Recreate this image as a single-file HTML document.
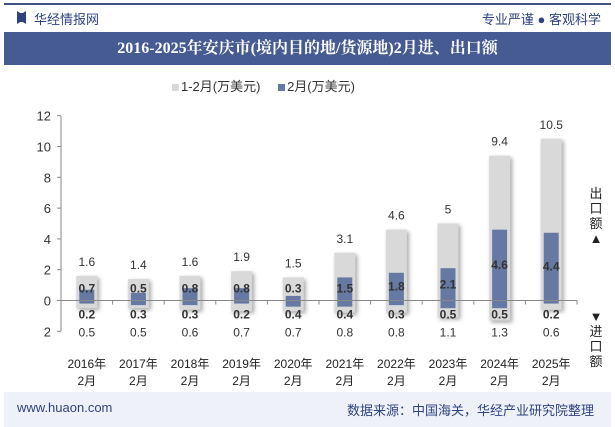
<!DOCTYPE html>
<html><head><meta charset="utf-8"><style>
body{margin:0;width:615px;height:427px;overflow:hidden;background:#fff;font-family:"Liberation Sans","Noto Sans CJK SC",sans-serif;position:relative}
.abs{position:absolute}
</style></head><body>
<div class="abs" style="left:4px;top:3px;width:607px;height:2px;background:#3e5189"></div>
<div class="abs" style="left:17px;top:11px;width:9px;height:13px;background:#2e4381;clip-path:polygon(0 0,35% 15%,65% 15%,100% 0,100% 100%,65% 85%,35% 85%,0 100%)"></div>
<div class="abs" style="left:34px;top:9px;font-size:13px;color:#2e4381">华经情报网</div>
<div class="abs" style="right:14px;top:9px;font-size:13px;color:#2e4381">专业严谨 ● 客观科学</div>
<div class="abs" style="left:4px;top:32px;width:607px;height:33px;background:#475b93;color:#fff;font-family:'Liberation Serif','Noto Serif CJK SC',serif;font-weight:bold;font-size:16px;line-height:33px;text-align:center">2016-2025年安庆市(境内目的地/货源地)2月进、出口额</div>
<div class="abs" style="left:172px;top:76px;font-size:13px;color:#333;white-space:nowrap">
<span><span style="display:inline-block;width:7px;height:7px;background:#d9d9d9;margin-right:2px"></span>1-2月(万美元)</span>
<span style="margin-left:14px"><span style="display:inline-block;width:7px;height:7px;background:#6679a3;margin-right:2px"></span>2月(万美元)</span>
</div>
<svg class="abs" style="left:0;top:0" width="615" height="427" id="chart"></svg>
<div class="abs" style="left:589px;top:186px;width:14px;font-size:13px;line-height:15px;color:#222;text-align:center">出<br>口<br>额<br>▲</div>
<div class="abs" style="left:589px;top:309px;width:14px;font-size:13px;line-height:15px;color:#222;text-align:center">▼<br>进<br>口<br>额</div>
<div class="abs" style="left:4px;top:392px;width:607px;height:35px;background:#eef1f7"></div>
<div class="abs" style="left:17px;top:400px;font-size:13px;color:#2e4381">www.huaon.com</div>
<div class="abs" style="left:347px;top:400px;font-size:13px;color:#2e4381">数据来源：中国海关，华经产业研究院整理</div>
<script>
const categories=["2016年","2017年","2018年","2019年","2020年","2021年","2022年","2023年","2024年","2025年"];
const exportYTD=[1.6,1.4,1.6,1.9,1.5,3.1,4.6,5,9.4,10.5];
const exportFeb=[0.7,0.5,0.8,0.8,0.3,1.5,1.8,2.1,4.6,4.4];
const importYTD=[0.5,0.5,0.6,0.7,0.7,0.8,0.8,1.1,1.3,0.6];
const importFeb=[0.2,0.3,0.3,0.2,0.4,0.4,0.3,0.5,0.5,0.2];
const yTicks=[12,10,8,6,4,2,0,-2];
const svg=document.getElementById('chart');
const NS='http://www.w3.org/2000/svg';
const y0=300.5,k=15.4,x0=61,x1=577,step=(x1-x0)/categories.length;
const Y=v=>y0-v*k, X=i=>x0+step*(i+0.5);
function mk(t,a,txt){const e=document.createElementNS(NS,t);for(const q in a)e.setAttribute(q,a[q]);if(txt!=null)e.textContent=txt;svg.appendChild(e);return e;}
let e;
e=mk('line',{x1:x0,y1:Y(12),x2:x0,y2:Y(-2),stroke:'#888'});


yTicks.forEach(t=>{
 e=mk('text',{x:x0-10,y:Y(t)+5,'text-anchor':'end','font-size':'13',fill:'#333'},String(Math.abs(t)));
 
 
 mk('line',{x1:x0-4,y1:Y(t),x2:x0,y2:Y(t),stroke:'#888'});
});
categories.forEach((c,i)=>{
 const cx=X(i);
 e=mk('rect',{x:cx-10.5,y:Y(exportYTD[i]),width:21,height:(exportYTD[i]+importYTD[i])*k,fill:'#d9d9d9',style:'filter:drop-shadow(2px 2px 2px rgba(0,0,0,0.35))'});
 
 
 e=mk('rect',{x:cx-7.5,y:Y(exportFeb[i]),width:15,height:(exportFeb[i]+importFeb[i])*k,fill:'#6679a3'});
 
 
 e=mk('text',{x:cx,y:Y(exportYTD[i])-10,'text-anchor':'middle','font-size':'12',fill:'#333'},String(exportYTD[i]));
 
 
 const my=Math.min(Y(exportFeb[i]/2)+4,y0-8);
 e=mk('text',{x:cx,y:my,'text-anchor':'middle','font-size':'12','font-weight':'bold',fill:'#333'},String(exportFeb[i]));
 
 
 e=mk('text',{x:cx,y:y0+18,'text-anchor':'middle','font-size':'12','font-weight':'bold',fill:'#333'},String(importFeb[i]));
 
 
 e=mk('text',{x:cx,y:y0+36,'text-anchor':'middle','font-size':'12',fill:'#333'},String(importYTD[i]));
 
 
 e=mk('text',{x:cx,y:368,'text-anchor':'middle','font-size':'12',fill:'#222'},c);
 
 
 e=mk('text',{x:cx,y:385,'text-anchor':'middle','font-size':'12',fill:'#222'},'2月');
 
 
 mk('line',{x1:x0+step*(i+1),y1:y0,x2:x0+step*(i+1),y2:y0+4,stroke:'#888'});
});
e=mk('line',{x1:x0,y1:y0,x2:x1,y2:y0,stroke:'#888'});


</script>
</body></html>
